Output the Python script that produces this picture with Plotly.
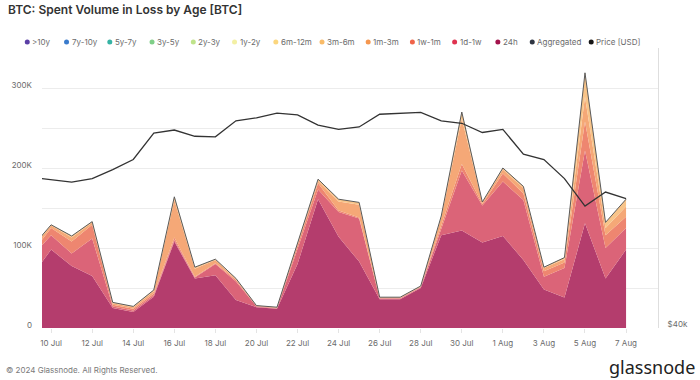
import plotly.graph_objects as go

# ---------------- data ----------------
dates = ["2024-07-09", "2024-07-10", "2024-07-11", "2024-07-12", "2024-07-13", "2024-07-14",
         "2024-07-15", "2024-07-16", "2024-07-17", "2024-07-18", "2024-07-19", "2024-07-20",
         "2024-07-21", "2024-07-22", "2024-07-23", "2024-07-24", "2024-07-25", "2024-07-26",
         "2024-07-27", "2024-07-28", "2024-07-29", "2024-07-30", "2024-07-31", "2024-08-01",
         "2024-08-02", "2024-08-03", "2024-08-04", "2024-08-05", "2024-08-06", "2024-08-07"]

vol_24h = [63000, 98000, 77500, 65000, 25000, 20000, 39000, 108000, 62000, 66000, 35000, 26000,
           24000, 80000, 161000, 114000, 83000, 36000, 36000, 50000, 116000, 122000, 107000,
           115000, 85000, 48000, 38000, 131000, 62000, 98000]
vol_1d_1w = [25000, 18000, 15500, 47000, 2000, 2000, 2000, 2000, 1000, 14000, 23000, 1000,
             500, 18000, 12000, 31000, 54000, 1000, 1000, 1000, 9000, 75000, 46000,
             68000, 75000, 16000, 37000, 91000, 38000, 27000]
vol_1w_1m = [4000, 9000, 15000, 17000, 2000, 2000, 2000, 3000, 1000, 1000, 2000, 500,
             500, 4000, 8000, 2000, 1000, 500, 500, 500, 3000, 8000, 2000,
             10000, 8000, 7000, 7000, 36000, 16000, 14000]
vol_1m_3m = [5000, 3000, 5000, 3000, 2000, 2000, 3000, 47000, 10000, 4000, 1000, 500,
             500, 3000, 3000, 11000, 16000, 500, 500, 500, 10000, 57000, 2000,
             5000, 7000, 4000, 4000, 31000, 9000, 13000]
vol_3m_6m = [2000, 1000, 2000, 1000, 1000, 1000, 1500, 4000, 2000, 1000, 1000, 0,
             500, 1000, 2000, 3000, 3000, 500, 500, 500, 2000, 8000, 500,
             2000, 2000, 1000, 2000, 30000, 7000, 9000]
price_usd = [58100, 57800, 57400, 57900, 59200, 60700, 64800, 65300, 64300, 64200, 66800, 67300,
             68100, 67800, 66100, 65400, 65800, 67900, 68000, 68200, 66800, 66400, 64900,
             65400, 61500, 60700, 57900, 54100, 56000, 55100]

legend_names = [">10y", "7y-10y", "5y-7y", "3y-5y", "2y-3y", "1y-2y", "6m-12m", "3m-6m",
                "1m-3m", "1w-1m", "1d-1w", "24h", "Aggregated", "Price [USD]"]
left_ticks = [0, 100000, 200000, 300000]
left_tick_text = ["0", "100K", "200K", "300K"]

# ---------------- styles ----------------
legend_colors = ["#5b3fa6", "#3a7bcc", "#36b3a4", "#80cf88", "#bfe38a", "#f3f0a4", "#fbd67e",
                 "#f9bb68", "#f5974f", "#f0644a", "#df3350", "#a3134c", "#2e3542", "#151515"]
legend_x_px = [23, 63, 107, 150, 192, 234, 276, 323, 370, 415, 458, 502, 537, 597]

stack = [("24h", vol_24h, "#b43d6d"),
         ("1d-1w", vol_1d_1w, "#db6478"),
         ("1w-1m", vol_1w_1m, "#ee8670"),
         ("1m-3m", vol_1m_3m, "#f5a877"),
         ("3m-6m", vol_3m_6m, "#f8c489")]

PL, PR, PT, PB = 38, 665, 48, 328
W, H = 700, 380


def px(x):
    return (x - PL) / (PR - PL)


def py(y):
    return (PB - y) / (PB - PT)


fig = go.Figure()
for name, vals, col in stack:
    fig.add_trace(go.Scatter(x=dates, y=vals, name=name, stackgroup="vol", mode="lines",
                             line=dict(width=0, color=col), fillcolor=col, showlegend=False))

aggregated = [sum(v) for v in zip(*[s[1] for s in stack])]
fig.add_trace(go.Scatter(x=dates, y=aggregated, name="Aggregated", mode="lines",
                         line=dict(color="#5a5a5a", width=1), showlegend=False))
fig.add_trace(go.Scatter(x=dates, y=price_usd, name="Price [USD]", mode="lines", yaxis="y2",
                         line=dict(color="#333333", width=1.3), showlegend=False))

grid_vals = [0, 50000, 100000, 150000, 200000, 250000, 300000, 350000]
grid_text = [left_tick_text[left_ticks.index(v)] if v in left_ticks else "" for v in grid_vals]

fig.update_layout(
    width=W, height=H, autosize=False,
    margin=dict(l=PL, r=W - PR, t=PT, b=H - PB, pad=0),
    paper_bgcolor="white", plot_bgcolor="white",
    font=dict(family="Inter, Noto Sans, sans-serif", size=8, color="#6b6b6b"),
    showlegend=False,
    xaxis=dict(type="date", range=["2024-07-09 13:20", "2024-08-08 13:20"],
               tick0="2024-07-10", dtick=2 * 86400000, tickformat="%-d %b",
               showgrid=False, ticks="outside", ticklen=4, tickcolor="#e4e4e4",
               ticklabelstandoff=3,
               showline=False, zeroline=False, tickfont=dict(size=8, color="#6b6b6b")),
    yaxis=dict(range=[0, 350000], tickvals=grid_vals, ticktext=grid_text,
               showgrid=True, gridcolor="#ececec", gridwidth=1, zeroline=False,
               showline=False, ticks="", ticklabelstandoff=9, ticklabelshift=-3,
               tickfont=dict(size=8, color="#6b6b6b")),
    yaxis2=dict(type="log", overlaying="y", side="right",
                range=[4.60206, 4.90309], tickvals=[40000], ticktext=["$40k"],
                showgrid=False, zeroline=False, showline=True, linecolor="#dedede",
                linewidth=1, ticks="", ticklabelstandoff=7, ticklabelshift=-4,
                tickfont=dict(size=8, color="#6b6b6b")),
)

annotations = [
    dict(text="BTC: Spent Volume in Loss by Age [BTC]", x=px(1), y=py(9), xref="paper",
         yref="paper", xanchor="left", yanchor="middle", showarrow=False,
         font=dict(size=12, color="#333333", family="Inter", weight=600)),
    dict(text="© 2024 Glassnode. All Rights Reserved.", x=px(-1), y=py(370), xref="paper",
         yref="paper", xanchor="left", yanchor="middle", showarrow=False,
         font=dict(size=8, color="#7a7a7a")),
    dict(text="glassnode", x=px(705), y=py(367), xref="paper", yref="paper",
         xanchor="right", yanchor="middle", showarrow=False,
         font=dict(size=18, color="#222222", family="Noto Sans")),
]
shapes = []
for name, col, xp in zip(legend_names, legend_colors, legend_x_px):
    shapes.append(dict(type="circle", xref="paper", yref="paper", xsizemode="pixel",
                       ysizemode="pixel", xanchor=px(xp), yanchor=py(42),
                       x0=-2.5, x1=2.5, y0=-2.5, y1=2.5,
                       fillcolor=col, line=dict(width=0)))
    annotations.append(dict(text=name, x=px(xp + 3), y=py(42), xref="paper", yref="paper",
                            xanchor="left", yanchor="middle", showarrow=False,
                            font=dict(size=8, color="#6b6b6b")))

fig.update_layout(annotations=annotations, shapes=shapes)
fig.write_html("out.html", config={"displayModeBar": False},
               post_script="document.body.style.margin='0';")
